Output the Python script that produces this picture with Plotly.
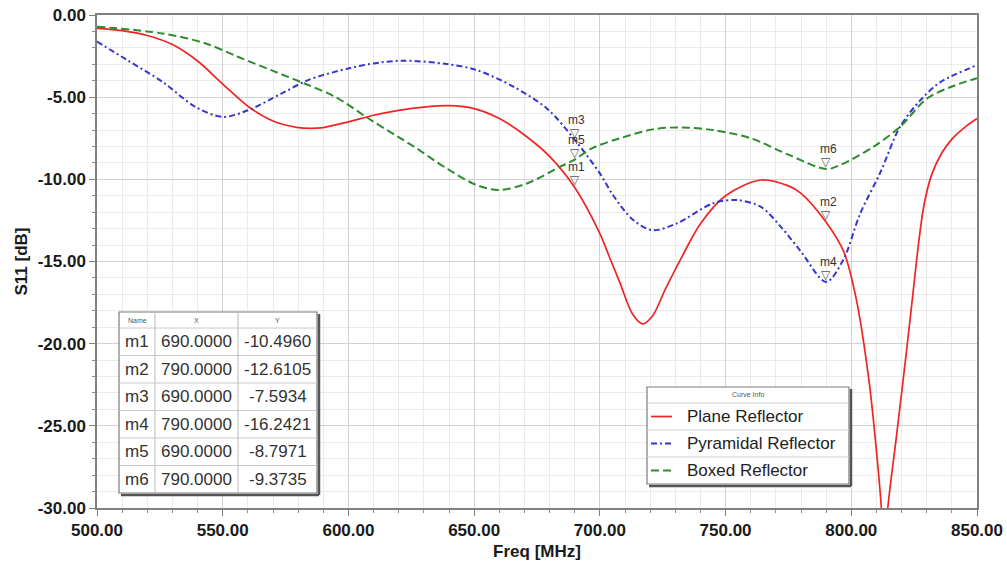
import plotly.graph_objects as go

# ---- S11 sweep data (MHz, dB) for the three reflector designs ----
plane_freq = [500, 510, 520, 530, 540, 550, 560, 570, 580, 585, 590, 600, 610, 620, 630,
              640, 650, 660, 670, 680, 690, 700, 704, 708, 713, 717, 721, 726, 732,
              740, 750, 764, 775, 780, 790, 797, 802, 807, 810, 812.2, 813.2, 814.2, 818,
              822, 825, 827, 829, 832, 836, 840, 845, 850]
plane_s11 = [-0.81, -0.95, -1.25, -1.8, -2.8, -4.2, -5.55, -6.45, -6.85, -6.9, -6.85, -6.5,
             -6.1, -5.8, -5.6, -5.52, -5.7, -6.3, -7.3, -8.6, -10.496, -13.3, -14.8, -16.3,
             -18.2, -18.8, -18.3, -16.7, -14.9, -12.7, -11.0, -10.04, -10.4, -10.85,
             -12.6105, -14.4, -17.3, -22.2, -26.5, -30.5, -34.0, -30.5, -25.6, -20.4, -16.3,
             -13.6, -11.5, -9.7, -8.4, -7.55, -6.85, -6.3]

pyr_freq = [500, 512, 526, 539, 550, 560, 573.5, 584, 600, 612, 622, 639, 651, 665.6, 679,
            690, 700, 705.4, 713.3, 721, 730.6, 745, 754.5, 764, 772, 780, 790, 796.8,
            803.5, 811.5, 819.4, 827.4, 835.3, 850]
pyr_s11 = [-1.62, -2.74, -4.06, -5.58, -6.2, -5.8, -4.77, -3.96, -3.25, -2.9, -2.78, -2.98,
           -3.35, -4.36, -5.7, -7.5934, -9.64, -11.0, -12.48, -13.1, -12.68, -11.46, -11.26,
           -11.67, -12.89, -14.4, -16.2421, -14.9, -12.1, -9.6, -6.8, -5.2, -4.1, -3.05]

box_freq = [500, 526, 543, 556, 570, 583, 595, 608, 618.5, 626, 639, 651, 660, 671, 684,
            690, 697, 708, 721, 732, 745, 760, 775, 790, 796, 809, 819.4, 830, 840, 850]
box_s11 = [-0.71, -1.12, -1.72, -2.54, -3.4, -4.2, -5.0, -6.3, -7.3, -8.0, -9.33, -10.35,
           -10.65, -10.25, -9.25, -8.7971, -8.1, -7.5, -6.96, -6.84, -7.0, -7.5, -8.5,
           -9.3735, -9.1, -8.0, -6.8, -5.1, -4.35, -3.85]

# ---- marker readouts ----
marker_names = ["m1", "m2", "m3", "m4", "m5", "m6"]
marker_freq = [690.0, 790.0, 690.0, 790.0, 690.0, 790.0]
marker_s11 = [-10.4960, -12.6105, -7.5934, -16.2421, -8.7971, -9.3735]

# ---- axis ticks ----
x_ticks = [500, 550, 600, 650, 700, 750, 800, 850]
y_ticks = [0, -5, -10, -15, -20, -25, -30]

curve_names = ["Plane Reflector", "Pyramidal Reflector", "Boxed Reflector"]
curve_colors = ["#f02424", "#3535d0", "#2e8b2e"]
curve_dash = ["solid", "6px,3px,2px,3px", "8px,4px"]
curve_width = [1.7, 2.0, 2.0]

W, H = 1007, 564
PL, PR, PT, PB = 97, 977, 15, 508


def fx(p):
    """pixel column -> paper x"""
    return (p - PL) / (PR - PL)


def fy(p):
    """pixel row -> paper y"""
    return (PB - p) / (PB - PT)


fig = go.Figure()
for f, s, name, c, d, w in zip([plane_freq, pyr_freq, box_freq],
                               [plane_s11, pyr_s11, box_s11],
                               curve_names, curve_colors, curve_dash, curve_width):
    fig.add_trace(go.Scatter(x=f, y=s, name=name, mode="lines",
                             line=dict(color=c, dash=d, width=w, shape="spline", smoothing=0.9),
                             showlegend=False, cliponaxis=True))

shapes = []
annotations = []


def note(x, y, text, size, color, xanchor="center", family="Arial", **kw):
    annotations.append(dict(x=x, y=y, xref="paper", yref="paper", text=text,
                            showarrow=False, xanchor=xanchor, yanchor="middle",
                            font=dict(size=size, color=color, family=family), **kw))


def pline(x0, x1, y0, y1, color, width, dash="solid"):
    shapes.append(dict(type="line", xref="paper", yref="paper", layer="above",
                       x0=fx(x0), x1=fx(x1), y0=fy(y0), y1=fy(y1),
                       line=dict(color=color, width=width, dash=dash)))


def boxed(l, r, t, b):
    # drop shadow on the right and bottom, then the white panel
    pline(r + 2, r + 2, t + 2, b + 2, "#555555", 2.5)
    pline(l + 2, r + 2, b + 2, b + 2, "#555555", 2.5)
    shapes.append(dict(type="rect", xref="paper", yref="paper", layer="above",
                       x0=fx(l), x1=fx(r), y0=fy(b), y1=fy(t),
                       fillcolor="white", line=dict(color="#7a7a7a", width=1.2)))


# marker triangles and labels
for n, mf, ms in zip(marker_names, marker_freq, marker_s11):
    annotations.append(dict(x=mf, y=ms, xref="x", yref="y", text="▽", showarrow=False,
                            xanchor="center", yanchor="middle", yshift=7,
                            font=dict(size=12, color="#555555", family="DejaVu Sans")))
    annotations.append(dict(x=mf, y=ms, xref="x", yref="y", text=n, showarrow=False,
                            xanchor="center", yanchor="middle", yshift=20, xshift=2,
                            font=dict(size=12, color="#333333", family="Arial")))

# ---- marker table ----
col_edges = [119, 155, 238, 317]
row_edges = [312, 328, 355.5, 383, 410.5, 438, 465.5, 493]
boxed(col_edges[0], col_edges[-1], row_edges[0], row_edges[-1])
for cx in col_edges[1:-1]:
    pline(cx, cx, row_edges[0], row_edges[-1], "#b8b8b8", 1)
for ry in row_edges[1:-1]:
    pline(col_edges[0], col_edges[-1], ry, ry, "#c8c8c8", 1)
col_centers = [(a + b) / 2 for a, b in zip(col_edges[:-1], col_edges[1:])]
for cx, htxt in zip(col_centers, ["Name", "X", "Y"]):
    note(fx(cx), fy((row_edges[0] + row_edges[1]) / 2), htxt, 7, "#555555")
for i, (n, mf, ms) in enumerate(zip(marker_names, marker_freq, marker_s11)):
    yc = fy((row_edges[i + 1] + row_edges[i + 2]) / 2)
    for cx, t in zip(col_centers, [n, f"{mf:.4f}", f"{ms:.4f}"]):
        note(fx(cx), yc, t, 17, "#333333")

# ---- curve info box ----
lg_l, lg_r = 647, 849
lg_rows = [387, 403, 430, 457, 484]
boxed(lg_l, lg_r, lg_rows[0], lg_rows[-1])
for ry in lg_rows[1:-1]:
    pline(lg_l, lg_r, ry, ry, "#d0d0d0", 1)
note(fx((lg_l + lg_r) / 2), fy((lg_rows[0] + lg_rows[1]) / 2), "Curve Info", 7, "#555555")
for i, (name, c, d, w) in enumerate(zip(curve_names, curve_colors, curve_dash, curve_width)):
    yc = (lg_rows[i + 1] + lg_rows[i + 2]) / 2
    pline(651, 672, yc, yc, c, w, d)
    note(fx(685), fy(yc), name, 17, "#222222", xanchor="left")

axis_font = dict(family="Arial", size=17, color="#1a1a1a", weight="bold")

fig.update_layout(
    width=W, height=H,
    margin=dict(l=PL, r=W - PR, t=PT, b=H - PB),
    paper_bgcolor="white", plot_bgcolor="white",
    shapes=shapes, annotations=annotations,
    font=dict(family="Arial"),
    xaxis=dict(range=[500, 850], tickvals=x_ticks, ticktext=[f"{v:.2f}" for v in x_ticks],
               tickfont=axis_font, showgrid=True, gridcolor="#d2d2d2", gridwidth=1,
               showline=True, linecolor="#808080", linewidth=1.5, mirror=True,
               ticks="outside", ticklen=6, tickcolor="#808080", zeroline=False,
               automargin=False,
               minor=dict(dtick=10, showgrid=True, gridcolor="#ebebeb", ticks="outside",
                          ticklen=3, tickcolor="#909090"),
               title=dict(text="Freq [MHz]", font=axis_font, standoff=6)),
    yaxis=dict(range=[-30, 0], tickvals=y_ticks, ticktext=[f"{v:.2f}" for v in y_ticks],
               tickfont=axis_font, showgrid=True, gridcolor="#d2d2d2", gridwidth=1,
               showline=True, linecolor="#808080", linewidth=1.5, mirror=True,
               ticks="outside", ticklen=6, tickcolor="#808080", zeroline=False,
               automargin=False,
               minor=dict(dtick=1, showgrid=True, gridcolor="#ebebeb", ticks="outside",
                          ticklen=3, tickcolor="#909090"),
               title=dict(text="S11 [dB]", font=axis_font, standoff=6)),
)

fig.write_html("out.html")
